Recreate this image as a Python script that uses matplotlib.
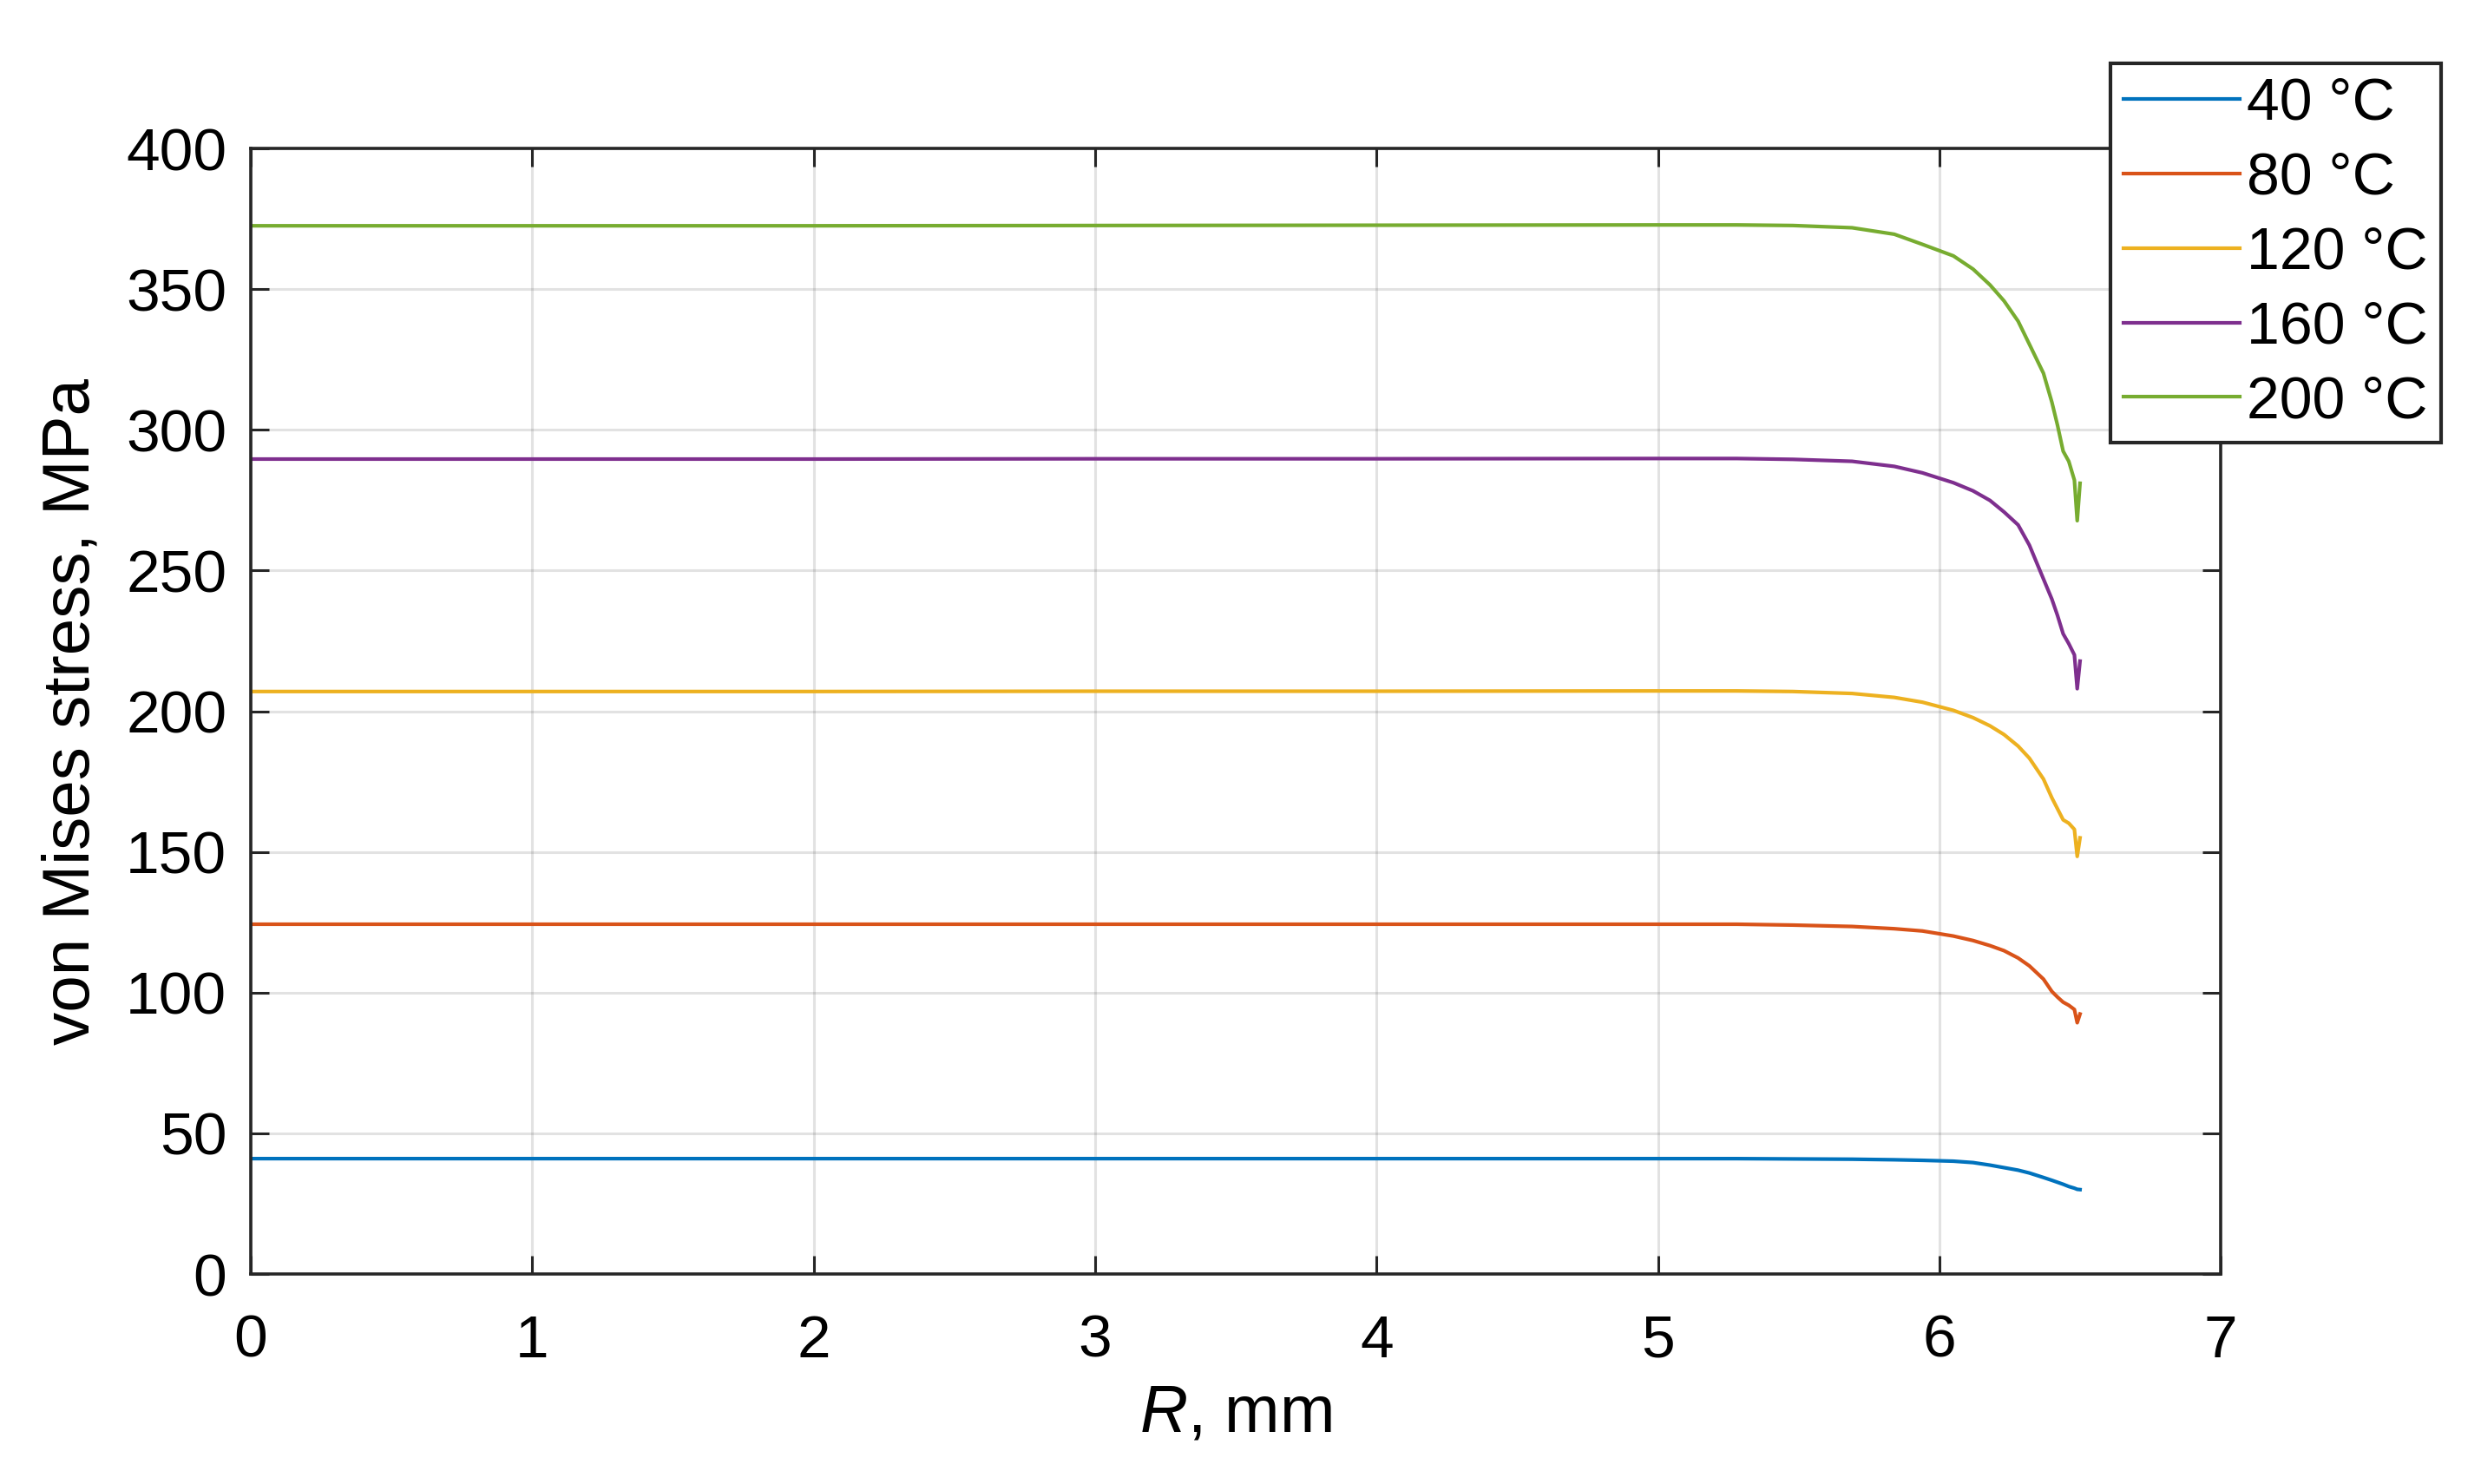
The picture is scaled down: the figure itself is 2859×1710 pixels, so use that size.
import matplotlib
matplotlib.use("Agg")
import matplotlib.pyplot as plt

plt.rcParams['font.family'] = ['Liberation Sans', 'DejaVu Sans']
plt.rcParams['mathtext.fontset'] = 'custom'
plt.rcParams['mathtext.rm'] = 'Liberation Sans'
plt.rcParams['mathtext.it'] = 'Liberation Sans:italic'

# Data
R = [0, 1, 2, 3, 4, 5, 5.28, 5.48, 5.69, 5.84, 5.94, 6.05, 6.12, 6.18, 6.23, 6.28,
     6.32, 6.37, 6.40, 6.42, 6.44, 6.46, 6.48, 6.49, 6.50]
s40 = [41.0, 41.0, 41.0, 41.0, 41.0, 41.0, 41.0, 40.9, 40.8, 40.6, 40.4, 40.1, 39.6, 38.7, 37.8, 36.9,
       35.9, 34.3, 33.3, 32.6, 31.9, 31.1, 30.5, 30.1, 30.0]
s80 = [124.3, 124.3, 124.3, 124.3, 124.3, 124.3, 124.3, 124.0, 123.5, 122.7, 121.9, 120.1, 118.5, 116.7, 114.9, 112.3,
       109.5, 104.8, 100.4, 98.4, 96.6, 95.5, 94.0, 89.3, 92.4]
s120 = [207.0, 207.0, 207.0, 207.1, 207.1, 207.2, 207.2, 207.0, 206.3, 204.9, 203.2, 200.3, 197.7, 194.8, 191.7, 187.6,
        183.3, 175.9, 169.2, 165.3, 161.4, 160.2, 158.0, 148.4, 155.0]
s160 = [289.6, 289.6, 289.6, 289.7, 289.7, 289.8, 289.8, 289.5, 288.8, 287.0, 284.7, 281.2, 278.3, 274.9, 270.8, 266.2,
        259.0, 247.0, 239.8, 234.0, 227.5, 224.0, 220.0, 208.0, 217.8]
s200 = [372.5, 372.5, 372.5, 372.6, 372.7, 372.8, 372.8, 372.6, 371.8, 369.5, 365.9, 361.8, 357.1, 351.5, 345.8, 338.6,
        330.4, 320.1, 309.8, 301.6, 292.4, 288.8, 282.1, 267.7, 281.0]
labels = ['40 °C', '80 °C', '120 °C', '160 °C', '200 °C']
colors = ['#0072BD', '#D95319', '#EDB120', '#7E2F8E', '#77AC30']
xticks = [0, 1, 2, 3, 4, 5, 6, 7]
yticks = [0, 50, 100, 150, 200, 250, 300, 350, 400]

fig = plt.figure(figsize=(14.295, 8.55), dpi=200)
ax = fig.add_axes([0.1011, 0.1415, 0.794, 0.7585])

for ys, lab, c in zip([s40, s80, s120, s160, s200], labels, colors):
    ax.plot(R, ys, color=c, lw=1.5, label=lab, solid_joinstyle='round')

ax.set_xlim(0, 7)
ax.set_ylim(0, 400)
ax.set_xticks(xticks)
ax.set_yticks(yticks)
ax.grid(True, color='#262626', alpha=0.13, lw=1.1)
ax.set_axisbelow(True)
for sp in ax.spines.values():
    sp.set_color('#262626')
    sp.set_linewidth(1.3)
ax.tick_params(direction='in', length=7.5, width=1.1, labelsize=25, color='#262626',
               top=True, right=True)
ax.tick_params(axis='x', pad=16.5)
ax.tick_params(axis='y', pad=10)

ax.set_xlabel('$R$, mm', fontsize=27.5, labelpad=6)
ax.set_ylabel('von Mises stress, MPa', fontsize=27.5, labelpad=9.5)

leg = fig.legend(loc='upper left', bbox_to_anchor=(0.8506, 0.9573), bbox_transform=fig.transFigure,
                 fontsize=24.5, frameon=True, fancybox=False, borderaxespad=0,
                 handlelength=1.97, handletextpad=0.12, labelspacing=0.32, borderpad=0.22)
leg.get_frame().set_edgecolor('#262626')
leg.get_frame().set_linewidth(1.5)
leg.get_frame().set_alpha(1)

fig.savefig('out.png', dpi=200)
